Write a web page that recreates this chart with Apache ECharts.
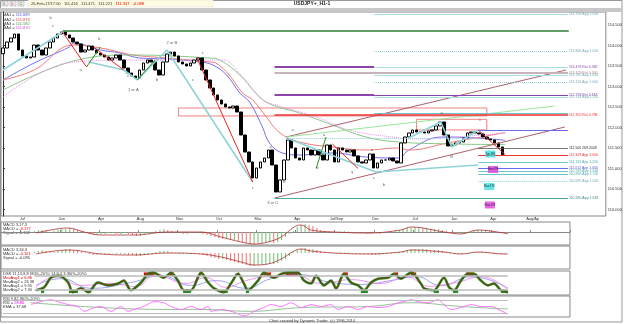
<!DOCTYPE html>
<html><head><meta charset="utf-8">
<script src="https://cdn.jsdelivr.net/npm/echarts@6/dist/echarts.min.js"></script>
<style>html,body{margin:0;padding:0;background:#fff}#c{width:625px;height:324px}</style>
</head><body><div id="c"></div>
<script>
// ---------- DATA ----------
const firstOpen = 113.80;
const closes = [113.939,114.085,114.183,114.280,113.890,113.744,113.695,113.720,114.012,113.890,
113.768,113.939,114.085,114.183,114.280,114.329,114.256,114.183,114.085,114.037,
113.841,113.890,113.988,113.890,113.817,113.768,113.720,113.646,113.695,113.768,
113.646,113.451,113.329,113.256,113.207,113.402,113.573,113.646,113.598,113.402,
113.280,113.598,113.793,113.841,113.744,113.598,113.549,113.500,113.573,113.646,
113.695,113.402,113.159,112.963,112.793,112.671,112.573,112.500,112.476,112.524,
112.378,111.817,111.402,111.159,110.768,111.012,111.159,111.256,111.451,111.085,
110.427,110.720,111.207,111.695,111.500,111.256,111.207,111.500,111.451,111.329,
111.451,111.329,111.207,111.573,111.451,111.159,111.500,111.451,111.402,111.451,
111.305,111.159,111.134,111.207,111.354,111.012,111.134,111.207,111.207,111.256,
111.183,111.134,111.622,111.768,111.866,111.939,111.890,111.890,111.866,111.915,
111.939,112.037,112.134,111.817,111.549,111.573,111.622,111.646,111.744,111.866,
111.890,111.866,111.841,111.768,111.720,111.695,111.622,111.524,111.337];

const tickIdx = [5,15,25,35,45,55,65,75,85,95,105,115,125,135];
const tickLabels = ["Jul","Jan","Apr","Aug","Nov","Oct","Mar","Apr","Jul/Sep","Dec","Jul","Jan","Apr","Aug/Ap"];
const priceTicks = [110.0,110.5,111.0,111.5,112.0,112.5,113.0,113.5,114.0,114.5];

const ma1 = [[0,113.159],[8,113.573],[17,113.963],[18,114.061],[25,113.890],[30,113.817],[35,113.695],[42,113.671],[50.5,113.598],[53.8,113.524],[57.3,113.280],[60.7,112.841],[63.2,112.62],[66.5,112.012],[68.3,111.622],[71.6,111.378],[76,111.329],[84.4,111.378],[93,111.280],[101.4,111.256],[104,111.45],[112.4,111.768],[121.1,111.744],[128.7,111.689]];
const ma2 = [[0,113.159],[8,113.402],[18,114.012],[25,113.939],[33.4,113.768],[42,113.695],[53,113.598],[54.5,113.573],[58,113.280],[61.4,112.841],[64,112.671],[67.5,112.256],[71,111.866],[76,111.646],[84.4,111.524],[93,111.451],[101.4,111.500],[104,111.450],[114,111.622],[128.7,111.876]];
const ma3 = [[0,112.915],[19.1,113.646],[33.4,113.768],[53,113.695],[55.6,113.646],[60.7,113.280],[65.8,112.744],[69,112.55],[76,112.354],[84.4,112.061],[93,111.768],[101.4,111.646],[114,111.600],[128.7,111.582]];
const ma4 = [[0,112.744],[18,113.598],[33.4,113.646],[53,113.646],[56.3,113.646],[61.4,113.232],[66.5,112.671],[70,112.55],[80.3,112.256],[88.7,111.939],[101.4,111.744],[104,111.720],[128.7,111.870]];
const maNames = ["MA1","MA2","MA3","MA4"];
const maLast = ["111.689","111.876","111.582","111.870"];

const cyanLines = [
  [[0,113.402],[15.3,114.329]],
  [[22,113.598],[31,113.402],[34.4,113.159],[42,113.890],[64,110.671]],
  [[72.6,111.744],[95.6,110.915],[121.8,111.085]],
  [[104,111.744],[112.2,112.134],[115,111.524],[121.8,111.939]]
];
const redLines = [
  [[15.3,114.329],[21.4,113.476]],
  [[23.2,113.963],[30.9,113.402]],
  [[49.7,113.695],[64,110.671]],
  [[84.4,111.600],[91,111.000]],
  [[121.8,111.939],[128.7,111.337]]
];
const greenLines = [
  [[21.4,113.476],[25,113.963]],
  [[34.4,113.159],[39,113.646]],
  [[80.3,111.012],[82.8,111.768]]
];
const maroonLines = [
  [[72.6,111.768],[144.3,113.402]],
  [[69.6,110.280],[144,112.012]]
];
const paleGreenLines = [[[72.6,111.768],[141.4,112.524]]];

const levelPrices = [114.768,114.354,113.866,113.476,113.476,113.329,113.280,113.110,112.793,112.793,112.744,112.354,112.305,111.939,111.744,111.500,111.329,111.159,111.012,110.939,110.866,110.695,110.280];
const levelStart  = [95.1,15.3,95.1,69.6,95.1,69.6,95.1,95.1,69.6,95.1,95.1,95.1,69.6,121.8,72.6,121.8,121.8,121.8,121.8,121.8,121.8,121.8,69.6];
const levelEnd    = [144.8,145,144.8,95.1,144.8,144.8,144.8,144.8,95.1,144.8,144.8,144.8,144.8,144.8,121.8,144.8,144.8,144.8,144.8,144.8,144.8,144.8,144.8];
const levelTags   = ["App 1.618","","App 1.000","","Ret 0.382","Ret 0.500","App 1.618","App 1.000","","Ret 0.618","App 1.250","","Ret 0.786","","","269.2048","App 1.000","App 1.250","App 1.000","App 1.618","App 1.750","App 1.000","App 1.618"];
const levelKind   = ["cl","green","cd","purple","clp","gray","cl","cd","purple","purpleThin","cl","cyan","red","blue","cd","dark","redThin","cyan","blue","cyan","cyan","cd","teal"];

const rectBoxes = [[[45,112.476],[124,112.281]],[[106,112.20],[124,111.94]]];
const annoPts = [[124.9,111.354],[125.6,110.976],[124.6,110.561],[124.8,110.110]];
const annoText = ["Typ.385","Max.276","Max.378","Max.578"];

const wavePts = [[12.2,114.671],[12.75,114.476],[19.9,113.402],[24.7,114.159],[32.1,113.256],[33.4,112.915],[39.5,113.159],[43.3,114.061],[48.7,113.159],[51.2,113.817],[68.6,111.524],[64,110.524],[69.1,110.159],[72.1,110.671],[74.2,111.939],[82.3,111.817],[80.5,111.012],[89.5,110.915],[95.1,110.768],[94.6,111.451],[97.6,110.598],[112.4,112.354],[115,111.280],[122.3,112.183]];
const waveText = ["b","c","a","b","c","1 or A","b","2 or B","c","c","a","c","3 or C","b","a","a","w","y","c","a","b","a","B","c"];

const macd1 = [null,null,null,null,null,null,null,null,
1,2,2,1,-1,1, 2,3,3,4,3,2,1, -1,-2,-3,-3,-2, -2,-1,-1,-2,-2,-1, -2,-3,-4,-4,-3,-2,-1,
1,2,3,2,1, -1,-1,-2,-2,-1,-1,-1, -2,-3,-4,-5,-6,-7,-7,-8,-8, -9,-10,-11,
-12,-12,-11,-11,-10,-10,-11,-10,-8, -5,-2,1, 5,7,8,7, 6,4,2,1,
0.5,-0.5,-1,0.5,1,0.5,-0.5,-1,-1, -1,-2,-2,-1,-2,-1,-1,0.5,1, 2,3,4,4,
5,5,4,4,3,3,3,2,1, -1,-2,-2,-2,-1,-1, 1,2,2,2,1,1, -1,-1,-2];
const macd1Sig = [[8.4,-1],[12.2,2],[16.6,4],[20.7,0],[25,-3],[33.4,-3],[42.1,0],[50.5,0],[55.6,-5],[60.7,-10],[64,-12],[67.5,-10],[70.9,-5],[74.2,5],[76,7],[78.5,2],[84.4,0],[93,-1],[101.4,2],[104,5],[112.4,0],[116.7,-2],[121,2],[127.7,-1],[128.7,-2]];
const macd2 = [null,null,null,null,null,null,null,null,
1,2,3,2,1,1, 2,3,4,4,3,2,1, 0.5,-1,-2,-2,-1, -1,-1,-0.5,-1,-1,-1, -2,-2,-3,-3,-2,-2,-1,
1,2,2,2,1, -0.5,-1,-1,-1,-1,-0.5,-1, -2,-3,-4,-5,-6,-6,-7,-8,-9, -10,-11,-12,
-13,-13,-12,-12,-11,-11,-11,-10,-8, -6,-3,0.5, 3,4,5,4, 4,3,2,1,
0.5,0.5,-0.5,0.5,0.5,0.5,-0.5,-1,-1, -1,-1,-2,-2,-2,-1,-1,-0.5,0.5, 1,2,3,4,
4,4,4,4,3,3,3,2,1, -0.5,-1,-1,-1,-1,-0.5, 0.5,1,1,1,1,0.5, -0.5,-1,-1];
const macd2Sig = [[8.4,-1],[16.6,3],[25,-1],[33.4,-2],[42,0],[50.5,-1],[55.6,-4],[60.7,-9],[64,-12],[67.5,-11],[70.9,-6],[74.2,2],[76,4],[78.5,2],[84.4,0],[93,-1],[101.4,1],[104,3],[112.4,1],[116.7,-1],[121,1],[127.7,-1],[128.7,-1]];

const dssMain = [[8.4,20],[10.5,32],[12.2,72],[14.3,80],[16.6,52],[17.8,12],[19.9,28],[21.7,12],[24.2,52],[26.8,40],[29.3,48],[30.8,60],[32.6,20],[35.2,52],[37,88],[38.5,92],[41,72],[42.8,92],[44.6,60],[46.1,20],[47.9,20],[50.5,92],[52.3,52],[53.8,28],[56.3,12],[58.1,48],[59.9,88],[61.4,48],[62.4,20],[65,60],[66.5,92],[69.1,72],[70.9,88],[72.6,92],[75.2,92],[76.7,60],[78.5,48],[79.8,80],[81.8,40],[83.6,60],[84.9,28],[86.9,88],[88.7,52],[90.5,40],[92,20],[93.8,52],[95.6,68],[98.1,72],[99.7,88],[101.4,68],[104,92],[104.7,88],[106.5,48],[107.3,28],[109.8,20],[112.4,72],[113.7,32],[115,20],[116.7,60],[118.5,88],[120,88],[121.8,60],[123.6,40],[125.1,48],[126.9,20],[128.7,12]];
const dssBlue = [[8.4,40],[14.8,68],[22.4,28],[32.6,52],[40.3,80],[47.9,40],[54.3,60],[61.9,28],[68.3,68],[76,84],[83.6,52],[91.2,44],[98.9,60],[105.3,76],[111.6,40],[119.3,76],[128.7,28]];
const dssMag = [[8.4,32],[13.5,76],[19.9,40],[27.5,48],[33.9,36],[39,84],[46.6,48],[51.7,72],[56.8,32],[61.9,60],[67,76],[74.7,80],[81.1,48],[88.7,64],[96.3,48],[102.7,76],[108.6,36],[115.5,52],[121.8,76],[128.7,20]];
const dssHighZones = [[35.9,38.5],[42.3,43.6],[50,50.5],[59.9,60.2],[66.3,68.3],[72.1,75.2],[86.7,87.9],[99.7,100.7],[104,105.3],[118,120]];
const dssLowZones = [[9.7,10.5],[16.8,19.1],[21.2,22.4],[45.9,47.9],[55.6,57.3],[61.9,62.7],[91.2,93],[109.8,111.1],[114.7,116],[126.9,128.7]];

const rsi = [[7.1,59],[12.2,82],[14,73],[16.6,59],[19.1,50],[20.7,27],[23.2,45],[25,50],[27.5,27],[30.1,50],[31.9,27],[33.4,36],[35.9,50],[38.5,73],[41,68],[42.8,50],[45.4,36],[47.9,50],[50.5,36],[52.3,50],[53,27],[55.6,36],[58.9,23],[61.4,5],[64,27],[66.5,45],[68.3,59],[70.9,50],[73.4,68],[76,45],[78.5,59],[81.1,50],[83.6,59],[85.4,36],[87.9,50],[90.5,36],[93,50],[95.6,45],[98.1,50],[100.7,68],[102.2,73],[104,82],[105.8,73],[108.3,68],[110.9,82],[112.4,59],[114.2,36],[116.7,45],[119.3,59],[121.8,50],[124.4,50],[126.2,36],[127.7,23],[128.7,14]];
const rsiEma = [[7.1,68],[25,45],[42,36],[50.5,36],[63.2,27],[76,45],[93,50],[104,68],[116.7,50],[128.7,38]];

// ---------- BUILD ----------
const NM = 155, NS = 145, CW = 3.924;
const catsM = Array.from({length: NM}, (_, i) => String(i));
const catsS = catsM.slice(0, NS);
const candles = closes.map((c, i) => { const o = i ? closes[i-1] : firstOpen; return [o, c, Math.min(o, c), Math.max(o, c)]; });
const lastClose = closes[closes.length - 1];

const LS = {
  cl:{color:'#a8dde2',width:1.2,type:'solid'}, clp:{color:'#a8dde2',width:1.2,type:'solid'},
  cd:{color:'#8fcfd6',width:1,type:'dotted'}, green:{color:'#2e7d32',width:1.6,type:'solid'},
  purple:{color:'#8e44ad',width:2,type:'solid'}, purpleThin:{color:'#8e44ad',width:1,type:'solid'},
  gray:{color:'#c7b3bb',width:2,type:'solid'}, cyan:{color:'#6cc4cc',width:1,type:'solid'},
  red:{color:'#ee3333',width:1.6,type:'solid'}, redThin:{color:'#ee3333',width:1,type:'solid'},
  blue:{color:'#6a6af0',width:1,type:'solid'}, dark:{color:'#555',width:0.8,type:'solid'},
  teal:{color:'#4aa8a8',width:1.2,type:'solid'}
};
const LC = {cl:'#7ab',clp:'#8e44ad',cd:'#7ab',green:'#2e7d32',purple:'#8e44ad',purpleThin:'#8e44ad',gray:'#a88',cyan:'#5aa',red:'#e33',redThin:'#e33',blue:'#55c',dark:'#333',teal:'#488'};

const levelData = levelPrices.map((p, k) => [
  {coord:[levelStart[k], p], lineStyle: LS[levelKind[k]],
   label:{show: !!levelTags[k], formatter: p.toFixed(3) + ' ' + levelTags[k], color: LC[levelKind[k]]}},
  {coord:[levelEnd[k], p]}
]);

const grids = [
  {left:1, top:12, width: NM*CW, height:204},
  {left:1, top:222, width: NS*CW, height:23},
  {left:1, top:246, width: NS*CW, height:23},
  {left:1, top:271, width: NS*CW, height:24},
  {left:1, top:296, width: NS*CW, height:21}
].map(g => Object.assign({show:true, borderColor:'#888', borderWidth:1, backgroundColor:'#fff'}, g));

const hidden = {axisLine:{show:false},axisTick:{show:false},axisLabel:{show:false},splitLine:{show:false}};
const xAxes = [
  Object.assign({type:'category', gridIndex:0, data:catsM, boundaryGap:true}, hidden),
  Object.assign({type:'value', gridIndex:0, min:-0.5, max:NM-0.5}, hidden),
  {type:'category', gridIndex:1, data:catsS, boundaryGap:true, position:'top',
   axisLine:{show:true,lineStyle:{color:'#888'}},
   axisTick:{show:true,length:2,interval:(i)=>tickIdx.includes(i),lineStyle:{color:'#888'}},
   axisLabel:{show:true,interval:(i)=>tickIdx.includes(i),fontSize:4,margin:1,color:'#333',fontFamily:'Arial',
     formatter:(v,i)=>{const k=tickIdx.indexOf(i);return k>=0?tickLabels[k]:'';}},
   splitLine:{show:false}},
  Object.assign({type:'value', gridIndex:1, min:-0.5, max:NS-0.5}, hidden),
  Object.assign({type:'category', gridIndex:2, data:catsS, boundaryGap:true}, hidden),
  Object.assign({type:'value', gridIndex:2, min:-0.5, max:NS-0.5}, hidden),
  Object.assign({type:'value', gridIndex:3, min:-0.5, max:NS-0.5}, hidden),
  Object.assign({type:'value', gridIndex:4, min:-0.5, max:NS-0.5}, hidden)
];
const yAxes = [
  {type:'value', gridIndex:0, position:'right', min:109.841, max:114.817, scale:true,
   axisLine:{show:true,lineStyle:{color:'#333'}}, axisTick:{show:true,length:2,customValues:priceTicks},
   axisLabel:{show:true,fontSize:4,margin:2,color:'#333',fontFamily:'Arial',customValues:priceTicks,formatter:v=>v.toFixed(3)},
   splitLine:{show:false}},
  Object.assign({type:'value', gridIndex:1, min:-13, max:10}, hidden),
  Object.assign({type:'value', gridIndex:2, min:-16, max:7}, hidden),
  Object.assign({type:'value', gridIndex:3, min:0, max:100}, hidden),
  Object.assign({type:'value', gridIndex:4, min:0, max:100}, hidden)
];

const series = [];
series.push({type:'candlestick', xAxisIndex:0, yAxisIndex:0, data:candles, barWidth:3,
  itemStyle:{color:'#ffffff',color0:'#000000',borderColor:'#000000',borderColor0:'#000000',borderWidth:1},
  markLine:{symbol:['none','none'], silent:true, lineStyle:{width:0,opacity:0},
    label:{position:'end',formatter:lastClose.toFixed(3),backgroundColor:'#ffff33',color:'#000',fontSize:4,padding:[1,2],distance:1},
    data:[{yAxis:lastClose}]}});
const maStyles = [{color:'#7070f0',type:'solid'},{color:'#f07a7a',type:'solid'},{color:'#88c888',type:'solid'},{color:'#f08af0',type:'dotted'}];
[ma1,ma2,ma3,ma4].forEach((d,k)=>series.push({type:'line',xAxisIndex:1,yAxisIndex:0,data:d,smooth:0.4,symbol:'none',z:1,
  lineStyle:{width:1,color:maStyles[k].color,type:maStyles[k].type}}));
const addLines = (sets, color, width) => sets.forEach(d => series.push({type:'line',xAxisIndex:1,yAxisIndex:0,data:d,symbol:'none',z:3,lineStyle:{color,width}}));
addLines(maroonLines,'#b0606c',1);
addLines(paleGreenLines,'#9ae69a',1);
addLines(cyanLines,'#8fd3d9',1.6);
addLines(redLines,'#ee2222',1);
addLines(greenLines,'#228b22',1);
series.push({type:'line',xAxisIndex:1,yAxisIndex:0,data:[],symbol:'none',
  markLine:{symbol:['none','none'],silent:true,label:{position:'end',fontSize:3.5,distance:1,fontFamily:'Arial'},data:levelData},
  markArea:{silent:true,itemStyle:{color:'rgba(0,0,0,0)',borderColor:'#f08080',borderWidth:1},
    data:rectBoxes.map(r=>[{coord:r[0]},{coord:r[1]}])}});
const annoColors = ['#40e0e0','#e040e0','#40e0e0','#e040e0'];
series.push({type:'scatter',xAxisIndex:1,yAxisIndex:0,symbol:'rect',symbolSize:[10,7],z:6,
  data:annoPts.map((p,k)=>({value:p,itemStyle:{color:annoColors[k]}})),
  label:{show:true,position:'inside',fontSize:2.8,color:'#000',formatter:p=>annoText[p.dataIndex]}});
series.push({type:'scatter',xAxisIndex:1,yAxisIndex:0,symbolSize:0,data:wavePts,z:7,
  label:{show:true,position:'inside',fontSize:4,color:'#333',fontFamily:'Arial',formatter:p=>waveText[p.dataIndex]}});

const histColor = (arr) => (p) => { const i = p.dataIndex; const prev = i > 0 ? arr[i-1] : null; return (prev == null || arr[i] >= prev) ? '#7cc47c' : '#f08080'; };
series.push({type:'bar',xAxisIndex:2,yAxisIndex:1,data:macd1,barWidth:1.1,itemStyle:{color:histColor(macd1)}});
series.push({type:'line',xAxisIndex:3,yAxisIndex:1,data:macd1Sig,smooth:0.4,symbol:'none',lineStyle:{color:'#b03030',width:0.8}});
series.push({type:'bar',xAxisIndex:4,yAxisIndex:2,data:macd2,barWidth:1.1,itemStyle:{color:histColor(macd2)}});
series.push({type:'line',xAxisIndex:5,yAxisIndex:2,data:macd2Sig,smooth:0.4,symbol:'none',lineStyle:{color:'#b03030',width:0.8}});

series.push({type:'line',xAxisIndex:6,yAxisIndex:3,data:[],symbol:'none',
  markLine:{symbol:['none','none'],silent:true,label:{show:false},lineStyle:{color:'#bbbbbb',width:1.5,type:'solid'},
    data:[[{coord:[8,80]},{coord:[128.7,80]}],[{coord:[8,20]},{coord:[128.7,20]}]]},
  markArea:{silent:true,data:[
    ...dssHighZones.map(z=>[{coord:[z[0],80],itemStyle:{color:'#ee0000'}},{coord:[z[1],94]}]),
    ...dssLowZones.map(z=>[{coord:[z[0],8],itemStyle:{color:'#2a8a2a'}},{coord:[z[1],22]}])]}});
series.push({type:'line',xAxisIndex:6,yAxisIndex:3,data:dssBlue,smooth:0.5,symbol:'none',lineStyle:{color:'#8a8af0',width:0.8}});
series.push({type:'line',xAxisIndex:6,yAxisIndex:3,data:dssMag,smooth:0.5,symbol:'none',lineStyle:{color:'#f07af0',width:0.8}});
series.push({type:'line',xAxisIndex:6,yAxisIndex:3,data:dssMain,smooth:0.3,symbol:'none',lineStyle:{color:'#1e8c1e',width:2.6}});
series.push({type:'line',xAxisIndex:6,yAxisIndex:3,data:dssMain,smooth:0.3,symbol:'none',lineStyle:{color:'#aa1111',width:0.8}});

series.push({type:'line',xAxisIndex:7,yAxisIndex:4,data:[],symbol:'none',
  markLine:{symbol:['none','none'],silent:true,label:{show:false},lineStyle:{color:'#bbbbbb',width:1,type:'solid'},
    data:[[{coord:[0,80]},{coord:[128.7,80]}],[{coord:[0,20]},{coord:[128.7,20]}]]}});
series.push({type:'line',xAxisIndex:7,yAxisIndex:4,data:rsiEma,smooth:0.4,symbol:'none',lineStyle:{color:'#88bb88',width:0.9}});
series.push({type:'line',xAxisIndex:7,yAxisIndex:4,data:rsi,smooth:0.3,symbol:'none',lineStyle:{color:'#ff66ff',width:0.9}});

const T = (x,y,text,extra) => ({type:'text',x,y,silent:true,style:Object.assign({text,fontSize:4,fill:'#333',fontFamily:'Arial',textVerticalAlign:'middle'},extra||{})});
const maCol = ['#5050e0','#e04040','#40a040','#e040e0'];
const graphic = [
  {type:'rect',shape:{x:0,y:8,width:622,height:4},style:{fill:'#c8c8c8'},silent:true},
  {type:'rect',shape:{x:28,y:0,width:185,height:7},style:{fill:'#fffbe0',stroke:'#ddd',lineWidth:0.5},silent:true},
  {type:'rect',shape:{x:2,y:1,width:6,height:5},style:{fill:'#eee',stroke:'#999',lineWidth:0.5},silent:true},
  {type:'rect',shape:{x:10,y:1,width:6,height:5},style:{fill:'#eee',stroke:'#999',lineWidth:0.5},silent:true},
  {type:'rect',shape:{x:18,y:1,width:6,height:5},style:{fill:'#eee',stroke:'#999',lineWidth:0.5},silent:true},
  T(3.5,3.7,'L',{fontSize:4}), T(11.5,3.7,'L',{fontSize:4,fill:'#c00'}), T(19.5,3.7,'C',{fontSize:4,fill:'#080'}),
  {type:'text',x:31,y:3.7,silent:true,style:{fontSize:4,fontFamily:'Arial',textVerticalAlign:'middle',
    text:'{a|26-Feb-17/17:00   111.416   111.471   111.221   }{b|111.337   -0.088}',
    rich:{a:{fontSize:4,fill:'#333'},b:{fontSize:4,fill:'#e00'}}}},
  T(312,4,'USDJPY+_H1-1',{fontSize:5,fontWeight:'bold',textAlign:'center',fill:'#222'}),
  ...maNames.map((n,k)=>({type:'text',x:3,y:15+k*4.4,silent:true,style:{fontFamily:'Arial',textVerticalAlign:'middle',
    text:'{a|'+n+' = }{b|'+maLast[k]+'}',rich:{a:{fontSize:4,fill:'#333'},b:{fontSize:4,fill:maCol[k]}}}})),
  T(3,225,'MACD 3,17,3'),
  {type:'text',x:3,y:229,silent:true,style:{fontFamily:'Arial',textVerticalAlign:'middle',text:'{a|MACD = }{b|-0.177}',rich:{a:{fontSize:4,fill:'#333'},b:{fontSize:4,fill:'#e00'}}}},
  T(3,233,'Signal = -0.102'),
  T(3,250,'MACD 3,34,3'),
  {type:'text',x:3,y:254,silent:true,style:{fontFamily:'Arial',textVerticalAlign:'middle',text:'{a|MACD = }{b|-0.161}',rich:{a:{fontSize:4,fill:'#333'},b:{fontSize:4,fill:'#e00'}}}},
  T(3,258,'Signal = -0.085'),
  T(3,274,'DSS 11,13,8,8 (80%-20%) 14,8,3,3 (80%-20%)'),
  T(3,278,'MovAvg1 = 6.86',{fill:'#c00'}), T(3,282,'MovAvg2 = 26.38'), T(3,286,'MovAvg1 = 9.35'), T(3,290,'MovAvg2 = 7.30'),
  T(3,298.5,'RSI 9,82 (80%-20%)'),
  {type:'text',x:3,y:302.5,silent:true,style:{fontFamily:'Arial',textVerticalAlign:'middle',text:'{a|RSI = }{b|28.86}',rich:{a:{fontSize:4,fill:'#333'},b:{fontSize:4,fill:'#e0e'}}}},
  T(3,306.5,'EMA = 37.68'),
  T(312,320.5,'Chart created by Dynamic Trader  (c) 1996-2014',{textAlign:'center',fontSize:4}),
  {type:'rect',shape:{x:0.5,y:0.5,width:621.5,height:321.5},style:{fill:'none',stroke:'#999',lineWidth:1},silent:true,z:-1}
];

const chart = echarts.init(document.getElementById('c'), null, {renderer:'canvas'});
chart.setOption({animation:false, backgroundColor:'#fff', grid:grids, xAxis:xAxes, yAxis:yAxes, series, graphic});
</script></body></html>
